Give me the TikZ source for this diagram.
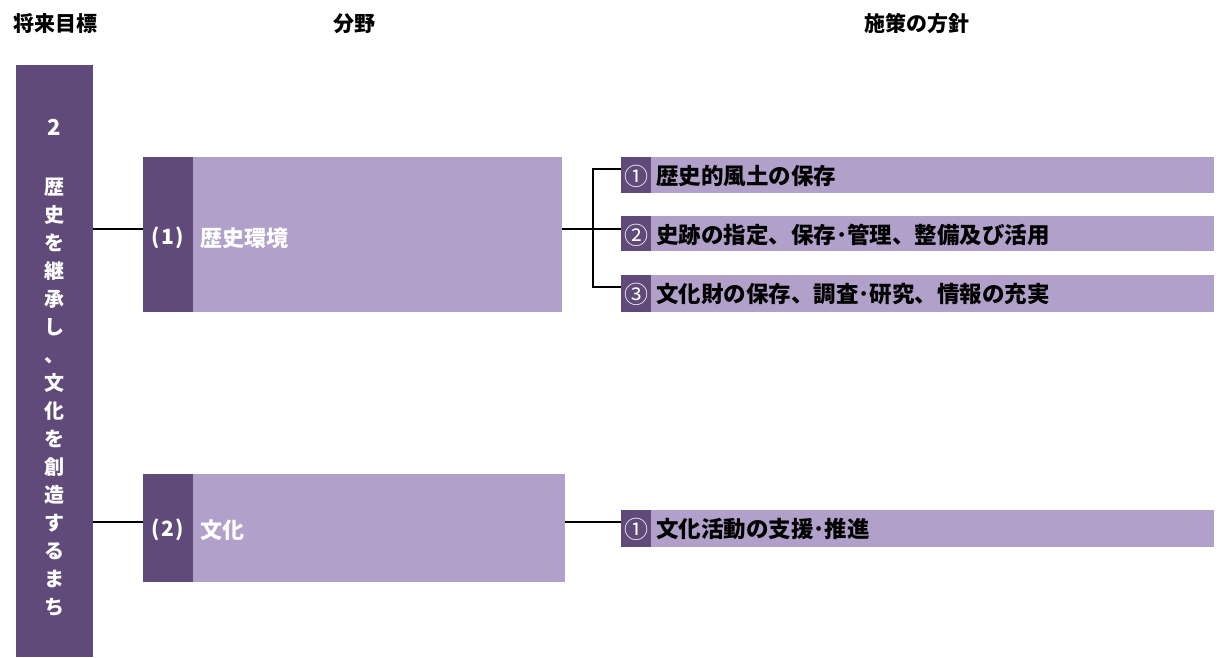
\documentclass[tikz,border=0pt]{standalone}
\usepackage{fontspec}
\setmainfont{Noto Sans CJK JP}
\definecolor{dk}{RGB}{95,74,122}
\definecolor{lt}{RGB}{177,160,201}
\tikzset{
  hdr/.style={font=\fontsize{21}{22}\selectfont\bfseries, text=black, inner sep=0pt},
  boxlbl/.style={font=\fontsize{22}{22}\selectfont\bfseries, text=white, inner sep=0pt},
  numlbl/.style={font=\fontsize{24}{24}\selectfont, text=white, inner sep=0pt},
  itemlbl/.style={font=\fontsize{22.5}{22}\selectfont\bfseries, text=black, inner sep=0pt, anchor=west},
  conn/.style={line width=1.6pt, black}
}
\begin{document}
\begin{tikzpicture}[x=1pt,y=-1pt]
\useasboundingbox (0,0) rectangle (1221,657);
% headers
\node[hdr] (h1) at (55,24) {将来目標};
\node[hdr] (h2) at (354,24) {分野};
\node[hdr] (h3) at (917,24) {施策の方針};
% left bar
\fill[dk] (16,65) rectangle (93,657);
\node[boxlbl, font=\fontsize{22}{22}\selectfont\bfseries] (two) at (54,127) {2};
\node[boxlbl, align=center, font=\fontsize{20}{28}\selectfont\bfseries] (vt) at (54,397)
 {歴\\史\\を\\継\\承\\し\\、\\文\\化\\を\\創\\造\\す\\る\\ま\\ち};
% field boxes
\fill[lt] (143,157) rectangle (562,312);
\fill[dk] (143,157) rectangle (193,312);
\coordinate (f1l) at (143,229);
\coordinate (f1r) at (562,229);
\node[boxlbl, font=\fontsize{21}{22}\selectfont\bfseries] (f1n) at (168,238) {(\kern1.5pt1\kern1.5pt)};
\node[boxlbl, anchor=west] (f1t) at (200,238) {歴史環境};
\fill[lt] (143,474) rectangle (565,582);
\fill[dk] (143,474) rectangle (193,582);
\coordinate (f2l) at (143,522);
\coordinate (f2r) at (565,522);
\node[boxlbl, font=\fontsize{21}{22}\selectfont\bfseries] (f2n) at (168,530) {(\kern1.5pt2\kern1.5pt)};
\node[boxlbl, anchor=west] (f2t) at (200,530) {文化};
% items
\foreach \t/\b in {157/193,216/251,275/312,510/547}{
  \fill[lt] (621,\t) rectangle (1214,\b);
  \fill[dk] (621,\t) rectangle (651,\b);
}
\node[numlbl] (ia) at (636,176) {①};
\node[itemlbl] (ta) at (656,176) {歴史的風土の保存};
\node[numlbl] (ib) at (636,235) {②};
\node[itemlbl] (tb) at (656,235) {史跡の指定、保存･管理、整備及び活用};
\node[numlbl] (ic) at (636,294) {③};
\node[itemlbl] (tc) at (656,294) {文化財の保存、調査･研究、情報の充実};
\node[numlbl] (id) at (636,529) {①};
\node[itemlbl] (td) at (656,529) {文化活動の支援･推進};
\coordinate (ea) at (621,169);
\coordinate (eb) at (621,229);
\coordinate (ec) at (621,287);
\coordinate (ed) at (621,522);
% connectors
\draw[conn] (93,229) -- (f1l);
\draw[conn] (93,522) -- (f2l);
\draw[conn] (f1r) -- (eb);
\draw[conn] (ea) -- (593,169) -- (593,287) -- (ec);
\draw[conn] (f2r) -- (ed);
\end{tikzpicture}
\end{document}
